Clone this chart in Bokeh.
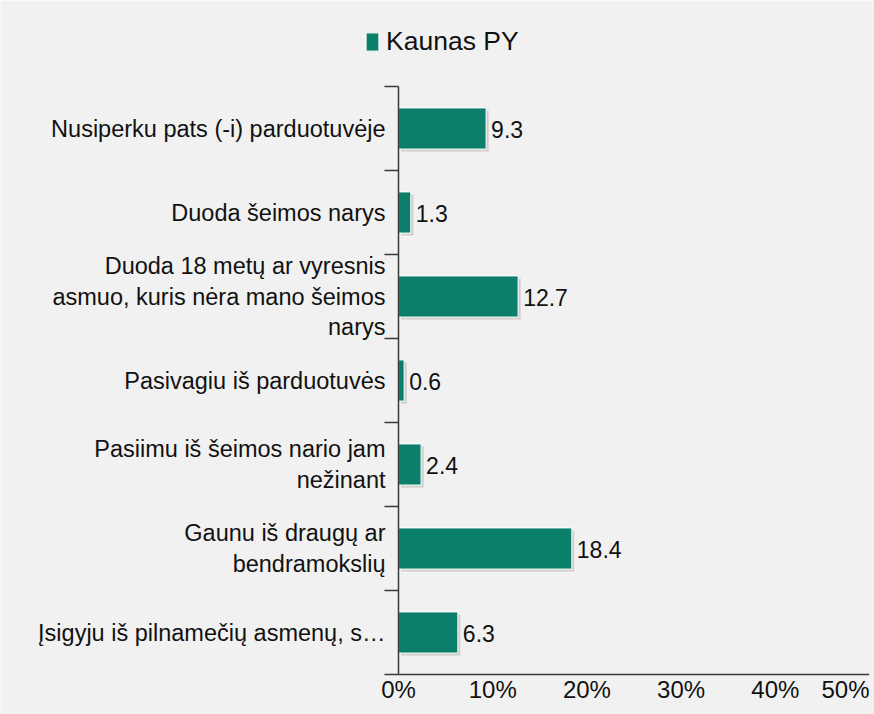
from bokeh.plotting import figure
from bokeh.models import Range1d, FixedTicker, ColumnDataSource
from bokeh.core.properties import value
from bokeh.embed import file_html
from bokeh.resources import INLINE

categories = [
    "Nusiperku pats (-i) parduotuvėje",
    "Duoda šeimos narys",
    "Duoda 18 metų ar vyresnis\nasmuo, kuris nėra mano šeimos\nnarys",
    "Pasivagiu iš parduotuvės",
    "Pasiimu iš šeimos nario jam\nnežinant",
    "Gaunu iš draugų ar\nbendramokslių",
    "Įsigyju iš pilnamečių asmenų, s…",
]
values = [9.3, 1.3, 12.7, 0.6, 2.4, 18.4, 6.3]
series_name = "Kaunas PY"
x_ticks = [0, 10, 20, 30, 40, 50]
x_tick_labels = ["0%", "10%", "20%", "30%", "40%", "50%"]

FONT = "Liberation Sans"
BG = "#f1f1f1"
BAR = "#0b7f69"
AXIS = "#3a3a3a"
TXT = "#111111"

W, H = 874, 714
# layout (pixels): where the category area sits inside the figure
AX_LEFT, AX_RIGHT, AX_TOP, AX_BOTTOM = 398, 869, 86, 674

n = len(categories)
pos = [n - i for i in range(n)]  # top category first

x_max = x_ticks[-1]
px_x = (AX_RIGHT - AX_LEFT) / x_max
px_y = (AX_BOTTOM - AX_TOP) / n
x_lo = -AX_LEFT / px_x
y_lo = 0.5 - (H - AX_BOTTOM) / px_y
y_hi = n + 0.5 + AX_TOP / px_y

src = ColumnDataSource(dict(
    y=pos,
    v=values,
    lab=[f"{v:.1f}" for v in values],
    ys=[q - 2.5 / px_y for q in pos],
    vs=[v + 2.5 / px_x for v in values],
    ls=[2.5 / px_x] * n,
))

p = figure(width=W, height=H, output_backend="svg", toolbar_location=None,
           x_range=Range1d(x_lo, x_max), y_range=Range1d(y_lo, y_hi),
           min_border_left=0, min_border_right=W - AX_RIGHT, min_border_top=0,
           min_border_bottom=0)
p.background_fill_color = BG
p.border_fill_color = BG
p.outline_line_color = None
p.grid.visible = False

# shadow
p.hbar(y="ys", left="ls", right="vs", height=0.49, source=src,
       fill_color="#c4c4c4", fill_alpha=0.8, line_color=None)
# bars
p.hbar(y="y", left=0, right="v", height=0.49, source=src,
       fill_color=BAR, line_color="#ffffff", line_alpha=0.85, line_width=1.2,
       legend_label=series_name)
# value labels
p.text(x="v", y="y", text="lab", source=src, x_offset=5, y_offset=1,
       text_baseline="middle", text_align="left", text_font=value(FONT),
       text_font_size="23px", text_color=TXT)

# x axis, fixed at the bottom of the category area
xa = p.xaxis[0]
xa.fixed_location = 0.5
xa.bounds = (0, x_max)
xa.ticker = FixedTicker(ticks=x_ticks)
xa.major_label_overrides = {t: "" for t in x_ticks}
xa.major_label_text_font_size = "0px"
xa.major_label_standoff = 0
xa.major_tick_out = 0
xa.major_tick_in = 0
xa.minor_tick_out = 0
xa.minor_tick_in = 0
xa.axis_line_color = AXIS
xa.axis_line_width = 1.5

# x tick labels (last one right-aligned to the end of the axis)
p.text(x=x_ticks[:-1], y=[0.5] * (len(x_ticks) - 1), text=x_tick_labels[:-1],
       text_align="center", text_baseline="top", y_offset=1,
       text_font=value(FONT), text_font_size="24px", text_color=TXT)
p.text(x=x_ticks[-1:], y=[0.5], text=x_tick_labels[-1:],
       text_align="right", text_baseline="top", y_offset=1,
       text_font=value(FONT), text_font_size="24px", text_color=TXT)

# y axis, fixed at x = 0
ya = p.yaxis[0]
ya.fixed_location = 0
ya.bounds = (0.5, n + 0.5)
ya.ticker = FixedTicker(ticks=pos, minor_ticks=[k + 0.5 for k in range(n + 1)])
ya.major_label_overrides = {q: c for q, c in zip(pos, categories)}
ya.major_tick_out = 0
ya.major_tick_in = 0
ya.minor_tick_out = 14
ya.minor_tick_in = 0
ya.minor_tick_line_color = AXIS
ya.minor_tick_line_width = 1.5
ya.axis_line_color = AXIS
ya.axis_line_width = 1.5
ya.major_label_text_font = FONT
ya.major_label_text_font_size = "23.5px"
ya.major_label_text_color = TXT
ya.major_label_text_line_height = 1.17
ya.major_label_standoff = -1

# legend
lg = p.legend[0]
lg.location = (364, 657)
lg.border_line_color = None
lg.background_fill_alpha = 0
lg.padding = 0
lg.margin = 0
lg.spacing = 0
lg.glyph_width = 16
lg.glyph_height = 23
lg.label_standoff = 6
lg.label_text_font = FONT
lg.label_text_font_size = "26.5px"
lg.label_text_color = TXT

open("out.html", "w").write(file_html(p, INLINE))
